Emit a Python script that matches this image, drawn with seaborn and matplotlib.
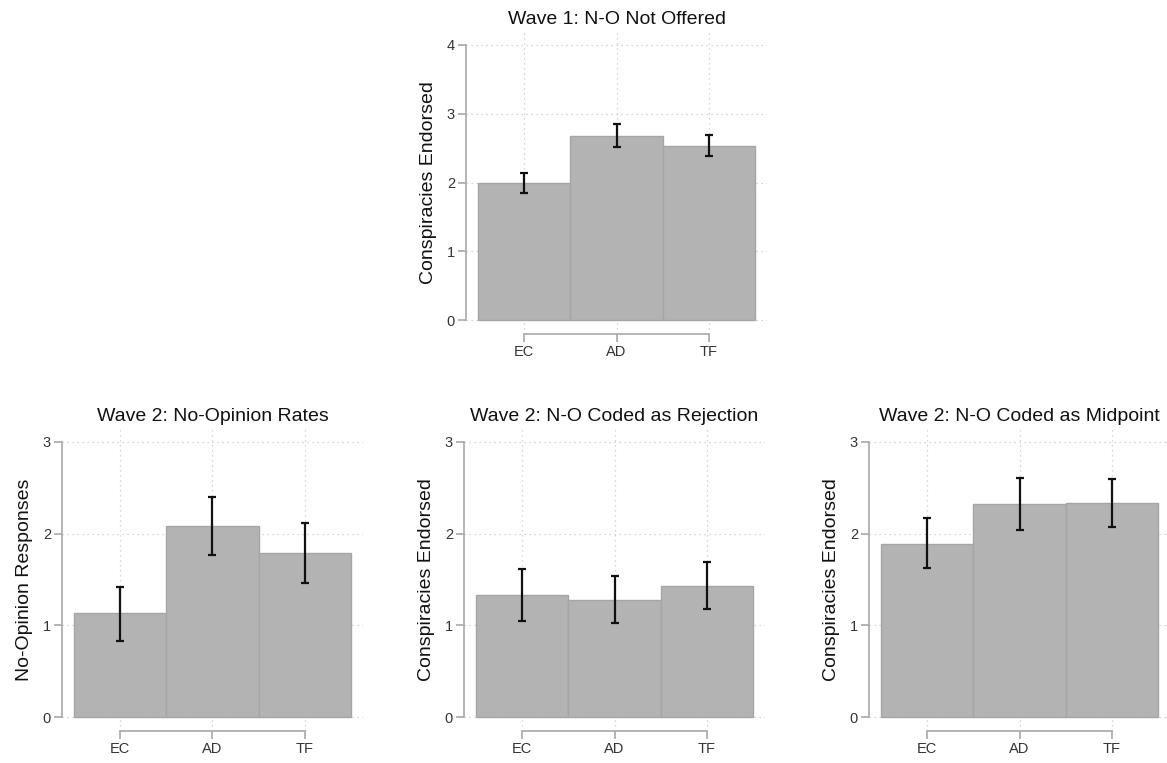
import numpy as np
import pandas as pd
import matplotlib
matplotlib.use("Agg")
import matplotlib.pyplot as plt
import seaborn as sns

# categories shared by every panel
groups = ["EC", "AD", "TF"]

# panel titles / y labels
titles = ["Wave 1: N-O Not Offered",
          "Wave 2: No-Opinion Rates",
          "Wave 2: N-O Coded as Rejection",
          "Wave 2: N-O Coded as Midpoint"]
ylabels = ["Conspiracies Endorsed", "No-Opinion Responses",
           "Conspiracies Endorsed", "Conspiracies Endorsed"]
ymax = [4, 3, 3, 3]

# means and 95% CI bounds
w1_mean = [1.99, 2.68, 2.53]
w1_lo = [1.85, 2.52, 2.38]
w1_hi = [2.14, 2.85, 2.69]

no_mean = [1.13, 2.08, 1.79]
no_lo = [0.83, 1.77, 1.46]
no_hi = [1.42, 2.40, 2.12]

rej_mean = [1.33, 1.28, 1.43]
rej_lo = [1.05, 1.03, 1.18]
rej_hi = [1.61, 1.54, 1.69]

mid_mean = [1.89, 2.32, 2.33]
mid_lo = [1.62, 2.04, 2.07]
mid_hi = [2.17, 2.61, 2.60]

panels = [(w1_mean, w1_lo, w1_hi), (no_mean, no_lo, no_hi),
          (rej_mean, rej_lo, rej_hi), (mid_mean, mid_lo, mid_hi)]

sns.set_style("white")
plt.rcParams['font.family'] = ['Liberation Sans', 'DejaVu Sans']

fig = plt.figure(figsize=(11.67, 7.63), dpi=100)

W, H = 1167, 763
# axes boxes in pixels: left, top, width, height
boxes = [(466, 31, 301, 303),
         (62, 428, 301, 303),
         (464, 428, 301, 303),
         (869, 428, 301, 303)]

grey_axis = "#a8a8a8"
for (mean, lo, hi), title, ylab, top, (l, t, w, h) in zip(panels, titles, ylabels, ymax, boxes):
    ax = fig.add_axes([l / W, 1 - (t + h) / H, w / W, h / H])
    df = pd.DataFrame({"group": groups, "mean": mean})
    sns.barplot(data=df, x="group", y="mean", order=groups, width=1.0,
                color="#b3b3b3", saturation=1, edgecolor="#a5a5a5",
                linewidth=1.0, errorbar=None, ax=ax)
    xs = np.arange(len(groups))
    m = np.array(mean)
    ax.errorbar(xs, m, yerr=[m - np.array(lo), np.array(hi) - m], fmt="none",
                ecolor="#111111", elinewidth=1.6, capsize=2.8, capthick=1.6, zorder=5)

    pad = 0.05 * top
    ax.set_xlim(-0.63, 2.63)
    ax.set_ylim(-pad, top + pad)
    ax.set_yticks(range(top + 1))
    ax.set_axisbelow(True)
    ax.grid(True, linestyle=(0, (1, 3)), color="#c8c8c8", linewidth=0.9)

    for s in ["top", "right"]:
        ax.spines[s].set_visible(False)
    ax.spines["left"].set_bounds(0, top)
    ax.spines["bottom"].set_bounds(0, 2)
    for s in ["left", "bottom"]:
        ax.spines[s].set_color(grey_axis)
        ax.spines[s].set_linewidth(1.2)
    ax.tick_params(axis="both", direction="out", length=6, width=1.2,
                   color=grey_axis, labelsize=10.5, labelcolor="#333333",
                   left=True, bottom=True, pad=2)
    ax.set_xlabel("")
    ax.set_ylabel(ylab, fontsize=14, color="#111111", labelpad=7)
    ax.set_title(title, fontsize=14, color="#111111", pad=5)

fig.savefig("out.png", dpi=100)
